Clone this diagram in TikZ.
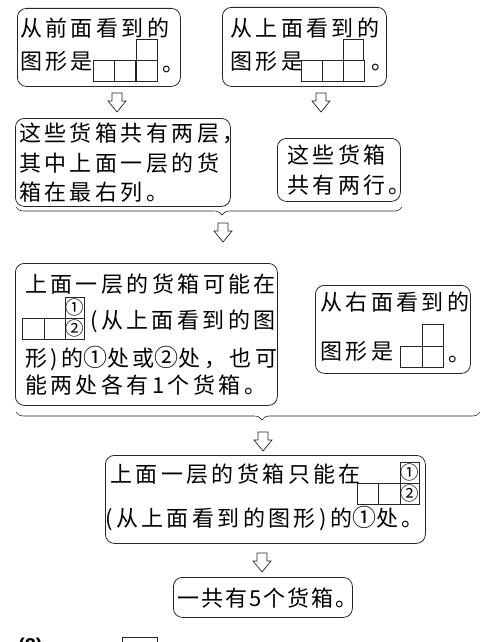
\documentclass[tikz,border=0pt]{standalone}
\usepackage{fontspec}
\newfontfamily\cjk{Noto Sans CJK SC}[LetterSpace=15.5]
\newfontfamily\cjkplain{Noto Sans CJK SC}
\newfontfamily\labelfont{Liberation Sans}
\newcommand{\ringed}[1]{{\fontsize{24}{24}\selectfont #1}}
\usetikzlibrary{decorations.pathreplacing}
\tikzset{
	panel/.style={draw=black!85,rounded corners=9pt,line width=0.8pt,inner sep=0pt,anchor=north west},
	words/.style={anchor=base west,inner sep=0pt,font=\cjk\fontsize{22}{26}\selectfont},
	cell/.style={draw=black!85,line width=0.6pt},
	digit/.style={inner sep=0pt,font=\cjkplain\fontsize{18.5}{18.5}\selectfont},
	bracket/.style={decorate,decoration={brace,mirror,amplitude=8pt},line width=0.6pt,draw=black!85},
	downarrow/.pic={
		\draw[black!85,line width=0.7pt,line join=miter]
			(-5,0) -- (5,0) -- (5,8) -- (9,8) -- (0,19) -- (-9,8) -- (-5,8) -- cycle;
		\coordinate (-tip) at (0,19);
	}
	}
\begin{document}
\begin{tikzpicture}[x=1pt,y=-1pt]
	\useasboundingbox (0,0) rectangle (488,642);
	% frames
	\node[panel,minimum width=163pt,minimum height=78pt] (front) at (17,8) {};
	\node[panel,minimum width=164pt,minimum height=79pt] (top) at (222,7) {};
	\node[panel,minimum width=215pt,minimum height=88pt] (layers) at (15,118) {};
	\node[panel,minimum width=123pt,minimum height=63pt] (rows) at (277,138) {};
	\node[panel,minimum width=262pt,minimum height=142pt] (maybe) at (15,263) {};
	\node[panel,minimum width=155pt,minimum height=88pt] (right) at (315,285) {};
	\node[panel,minimum width=320pt,minimum height=88pt] (only) at (105,455) {};
	\node[panel,minimum width=179pt,minimum height=40pt] (total) at (173,577) {};

	% texts
	\node[words] (f1) at (20,37) {从前面看到的};
	\node[words] (f2) at (20,70) {图形是};
	\node[words] (fdot) at (162,71) {。};
	\node[words] (t1) at (230,37) {从上面看到的};
	\node[words] (t2) at (230,70) {图形是};
	\node[words] (tdot) at (371,70) {。};
	\node[words] (l1) at (19,141) {这些货箱共有两层，};
	\node[words] (l2) at (19,171) {其中上面一层的货};
	\node[words] (l3) at (19,200) {箱在最右列。};
	\node[words] (r1) at (287,163) {这些货箱};
	\node[words] (r2) at (287,193) {共有两行。};
	\node[words] (m1) at (25,292) {上面一层的货箱可能在};
	\node[words] (m2) at (90,328) {(从上面看到的图};
	\node[words] (m3) at (25,366) {形)的\ringed{①}处或\ringed{②}处，也可};
	\node[words] (m4) at (25,393) {能两处各有1个货箱。};
	\node[words] (s1) at (320,310) {从右面看到的};
	\node[words] (s2) at (320,359) {图形是};
	\node[words] (sdot) at (448,361) {。};
	\node[words] (o1) at (110,482) {上面一层的货箱只能在};
	\node[words] (o2) at (105,526) {(从上面看到的图形)的\ringed{①}处。};
	\node[words,font=\cjk\fontsize{22}{26}\selectfont\addfontfeature{LetterSpace=9}] (g1) at (177,606) {一共有5个货箱。};

	% views
	\foreach \x in {93,114,136} \draw[cell] (\x,60) rectangle ++(21,21);
	\draw[cell] (136,39) rectangle (157,60);
	\foreach \x in {301,322,343} \draw[cell] (\x,60) rectangle ++(21,21);
	\draw[cell] (343,39) rectangle (363,60);
	\draw[cell] (400,346) rectangle (422,367);
	\draw[cell] (422,324) rectangle (443,346);
	\draw[cell] (422,346) rectangle (443,367);

	% grids with places
	\draw[cell] (22,318) rectangle (44,339);
	\draw[cell] (44,318) rectangle (65,339);
	\draw[cell] (65,297) rectangle (84,318);
	\draw[cell] (65,318) rectangle (84,339);
	\node[digit] (ma) at (74.5,307.5) {①};
	\node[digit] (mb) at (74.5,328.5) {②};
	\draw[cell] (357,483) rectangle (378,504);
	\draw[cell] (378,483) rectangle (400,504);
	\draw[cell] (400,462) rectangle (419,483);
	\draw[cell] (400,483) rectangle (419,504);
	\node[digit] (oa) at (409.5,472.5) {①};
	\node[digit] (ob) at (409.5,493.5) {②};

	% arrows
	\pic (a1) at (117,93) {downarrow};
	\pic (a2) at (321,93) {downarrow};
	\pic (a3) at (223,223) {downarrow};
	\pic (a4) at (263,432) {downarrow};
	\pic (a5) at (262,553) {downarrow};

	% braces
	\coordinate (b1l) at (16,207);
	\coordinate (b1r) at (402,207);
	\coordinate (b2l) at (16,412);
	\coordinate (b2r) at (480,412);
	\draw[bracket,decoration={aspect=0.534}] (b1l) -- (b1r);
	\draw[bracket,decoration={aspect=0.53}] (b2l) -- (b2r);

	% next part, cut off
	\node[anchor=base west,inner sep=0pt,font=\labelfont\bfseries\fontsize{20}{20}\selectfont] (part) at (18,652) {(2)};
	\draw[cell] (122,637) rectangle (157,672);
\end{tikzpicture}
\end{document}
